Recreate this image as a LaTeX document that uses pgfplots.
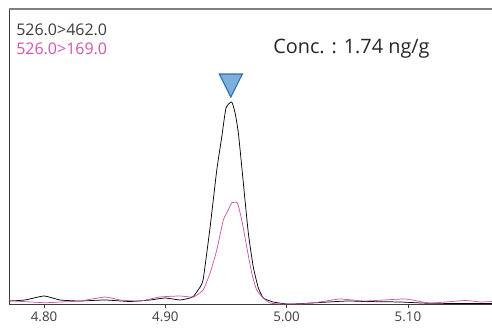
\documentclass[border=0pt]{standalone}
\usepackage{fontspec}
\setmainfont{Open Sans}
\usepackage{pgfplots}
\pgfplotsset{compat=1.18}
\definecolor{pinkline}{RGB}{205,85,170}
\definecolor{framegray}{RGB}{128,128,128}
\definecolor{axgray}{RGB}{60,60,60}
\definecolor{trifill}{RGB}{125,175,222}
\definecolor{triedge}{RGB}{40,110,175}
\begin{document}
\begin{tikzpicture}
\useasboundingbox (-6.75pt,-20.25pt) rectangle (362.25pt,228pt);
\begin{axis}[
  at={(0,0)}, anchor=south west,
  scale only axis, width=362.25pt, height=221.25pt,
  xmin=4.7711, xmax=5.1693, ymin=0, ymax=295,
  axis x line=bottom, axis y line=left,
  axis line style={-, axgray, line width=0.6pt},
  ytick=\empty,
  xtick={4.8,4.9,5.0,5.1},
  xticklabel style={font=\fontsize{10pt}{12pt}\selectfont, text=axgray, yshift=1pt},
  /pgf/number format/assume math mode=true,
  xticklabel={\pgfmathprintnumber[fixed,fixed zerofill,precision=2]{\tick}},
  tick style={axgray, line width=0.5pt},
  major tick length=3pt,
  tick align=outside,
  clip=false,
]
\draw[framegray, line width=1.3pt] (rel axis cs:0,1) -- (rel axis cs:1,1);
\addplot[black, line width=0.55pt, smooth, tension=0.3] coordinates {
(4.7711,3) (4.7843,4) (4.8000,8) (4.8132,4) (4.8297,3) (4.8503,4) (4.8709,2.5)
(4.8874,4) (4.8998,6) (4.9121,4) (4.9204,6) (4.9231,7.5) (4.9270,14) (4.9311,24)
(4.9369,77) (4.9424,134) (4.9465,167) (4.9500,196) (4.9547,202) (4.9575,191)
(4.9602,171) (4.9643,121) (4.9684,71) (4.9725,37) (4.9767,16) (4.9808,6)
(4.9888,2) (5.0003,0) (5.0111,0.3) (5.0275,1.5) (5.0498,3) (5.0646,2.5)
(5.0935,2) (5.1182,0.7) (5.1693,0.5)
};
\addplot[pinkline, line width=0.55pt, smooth, tension=0.3] coordinates {
(4.7711,3.3) (4.8000,1.3) (4.8132,2) (4.8297,3) (4.8503,7) (4.8627,4) (4.8791,3)
(4.8956,7) (4.9121,8) (4.9231,7) (4.9311,14) (4.9369,31) (4.9424,54) (4.9478,84)
(4.9519,94) (4.9547,101) (4.9594,101) (4.9630,84) (4.9671,57) (4.9712,31)
(4.9753,14) (4.9808,6) (4.9863,1) (4.9946,0) (5.0111,0) (5.0275,2) (5.0440,5)
(5.0646,3) (5.0976,5) (5.1182,1) (5.1471,3.5) (5.1594,2) (5.1693,2.5)
};
\addplot[only marks, mark=triangle*, mark size=10pt,
  mark options={fill=trifill, draw=triedge, line width=0.8pt, yscale=-1.15}]
  coordinates {(4.9540,222.3)};
\node[anchor=base west, inner sep=0pt, text=axgray, font=\fontsize{12pt}{14pt}\selectfont]
  at (axis description cs:0.0145,0.9085) {526.0>462.0};
\node[anchor=base west, inner sep=0pt, text=pinkline, font=\fontsize{12pt}{14pt}\selectfont]
  at (axis description cs:0.0145,0.8441) {526.0>169.0};
\node[anchor=base west, inner sep=0pt, text=black!85, font=\fontsize{14.9pt}{17pt}\selectfont]
  at (axis description cs:0.5466,0.8475) {Conc. : 1.74 ng/g};
\end{axis}
\end{tikzpicture}
\end{document}
